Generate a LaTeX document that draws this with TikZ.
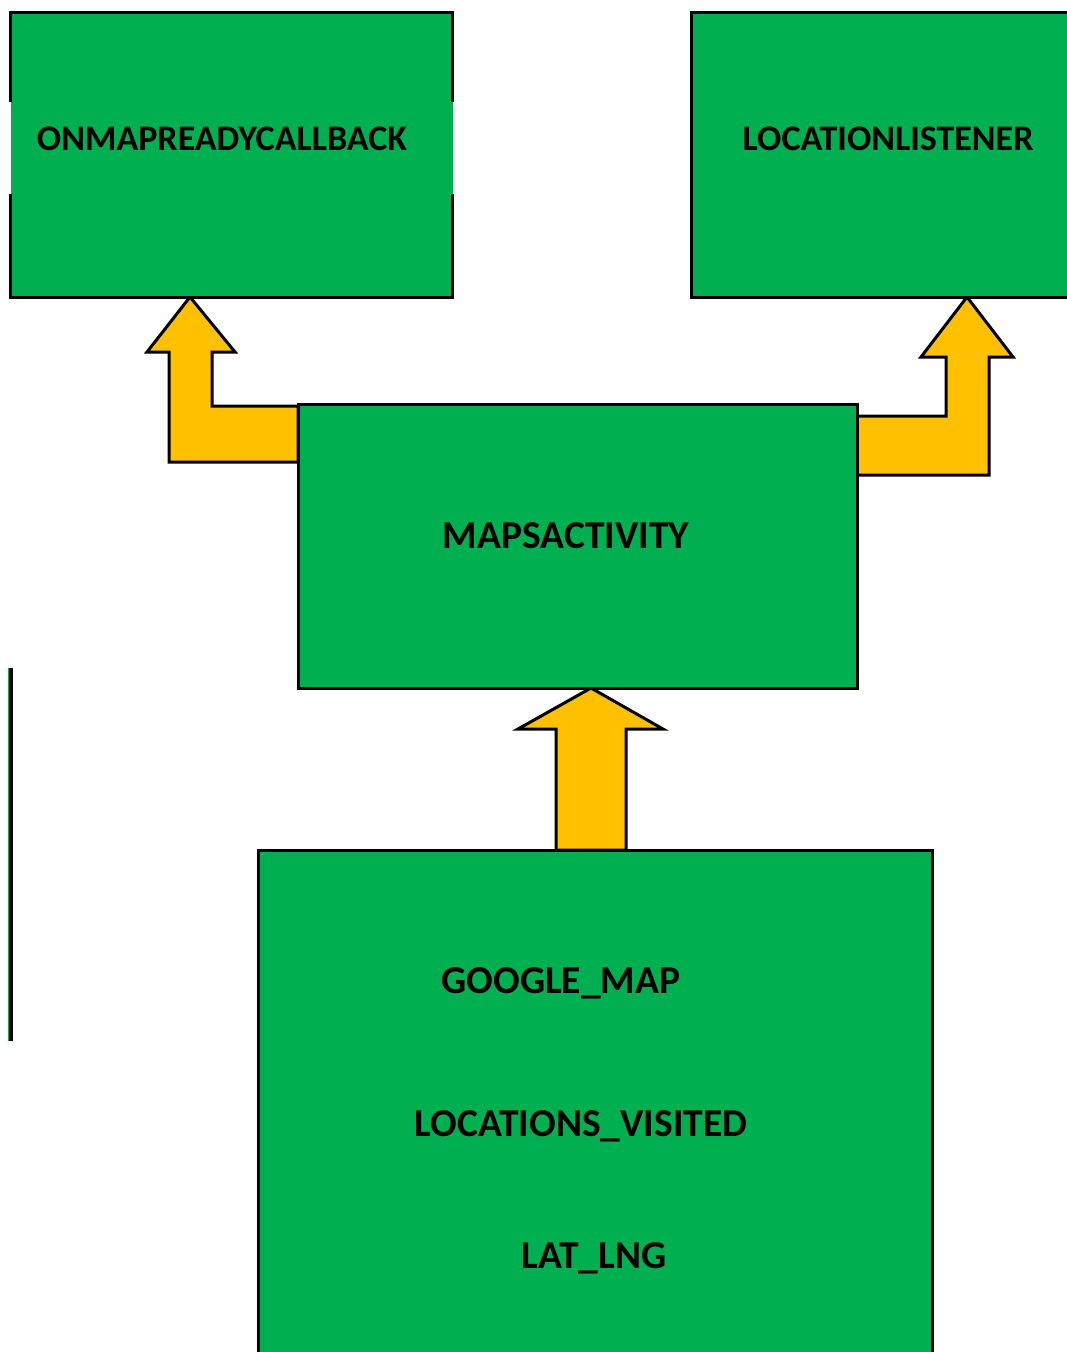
\documentclass[tikz,border=0pt]{standalone}
\usepackage{fontspec}
\setmainfont{Carlito}
\definecolor{boxgreen}{HTML}{00B050}
\definecolor{arrowgold}{HTML}{FFC000}
\tikzset{
  boxfill/.style={fill=boxgreen, draw=none, inner sep=0pt, outer sep=0pt},
  box/.style={boxfill, draw=black, line width=3pt},
  edge/.style={draw=black, line width=3pt, line cap=rect},
  blockarrow/.style={fill=arrowgold, draw=black, line width=3pt, line join=miter},
  labeltop/.style={inner sep=0pt, anchor=base, font=\bfseries\fontsize{36}{40}\selectfont},
  label/.style={inner sep=0pt, anchor=base, font=\bfseries\fontsize{39.5}{44}\selectfont},
}
\begin{document}
\begin{tikzpicture}[x=1pt, y=-1pt]
\useasboundingbox (0,0) rectangle (1067,1352);
\clip (0,0) rectangle (1067,1352);

% block arrows pointing from MapsActivity to the interfaces, and from the fields up to MapsActivity
\coordinate (tipL) at (190,297);
\coordinate (tipR) at (967,297);
\coordinate (tipM) at (591,688);
\path[blockarrow] (tipL) -- (235,352) -- (212,352) -- (212,406) -- (298,406) -- (298,462)
  -- (169,462) -- (169,352) -- (147,352) -- cycle;
\path[blockarrow] (tipR) -- (1013,357) -- (989,357) -- (989,475) -- (857,475) -- (857,416)
  -- (946,416) -- (946,357) -- (921,357) -- cycle;
\path[blockarrow] (tipM) -- (663,729) -- (626,729) -- (626,850) -- (556,850) -- (556,729)
  -- (518,729) -- cycle;

% OnMapReadyCallback box, border broken on both sides
\node[boxfill, minimum width=442pt, minimum height=285pt] (cb) at (231.5,154.5) {};
\draw[edge] (cb.north west) ++(0,88) -- (cb.north west) -- (cb.north east) -- ++(0,88);
\draw[edge] (cb.south west) ++(0,-102) -- (cb.south west) -- (cb.south east) -- ++(0,-102);
\node[labeltop] (cbtext) at (222,150) {ONMAPREADYCALLBACK};

% LocationListener box
\node[box, minimum width=399pt, minimum height=285pt] (ll) at (890.5,154.5) {};
\node[labeltop] (lltext) at (888,150) {LOCATIONLISTENER};

% MapsActivity box
\node[box, minimum width=559pt, minimum height=284pt] (ma) at (577.5,546) {};
\node[label] (matext) at (566,548) {MAPSACTIVITY};

% fields box
\node[box, minimum width=674pt, minimum height=530pt] (fields) at (595,1115) {};
\node[label] (f1) at (561,993) {GOOGLE\_MAP};
\node[label] (f2) at (581,1136) {LOCATIONS\_VISITED};
\node[label] (f3) at (594,1268) {LAT\_LNG};

% stray edge at the left margin
\fill[boxgreen] (7.5,668) rectangle (9,1041);
\fill[black] (9,668) rectangle (12.5,1041);
\end{tikzpicture}
\end{document}
